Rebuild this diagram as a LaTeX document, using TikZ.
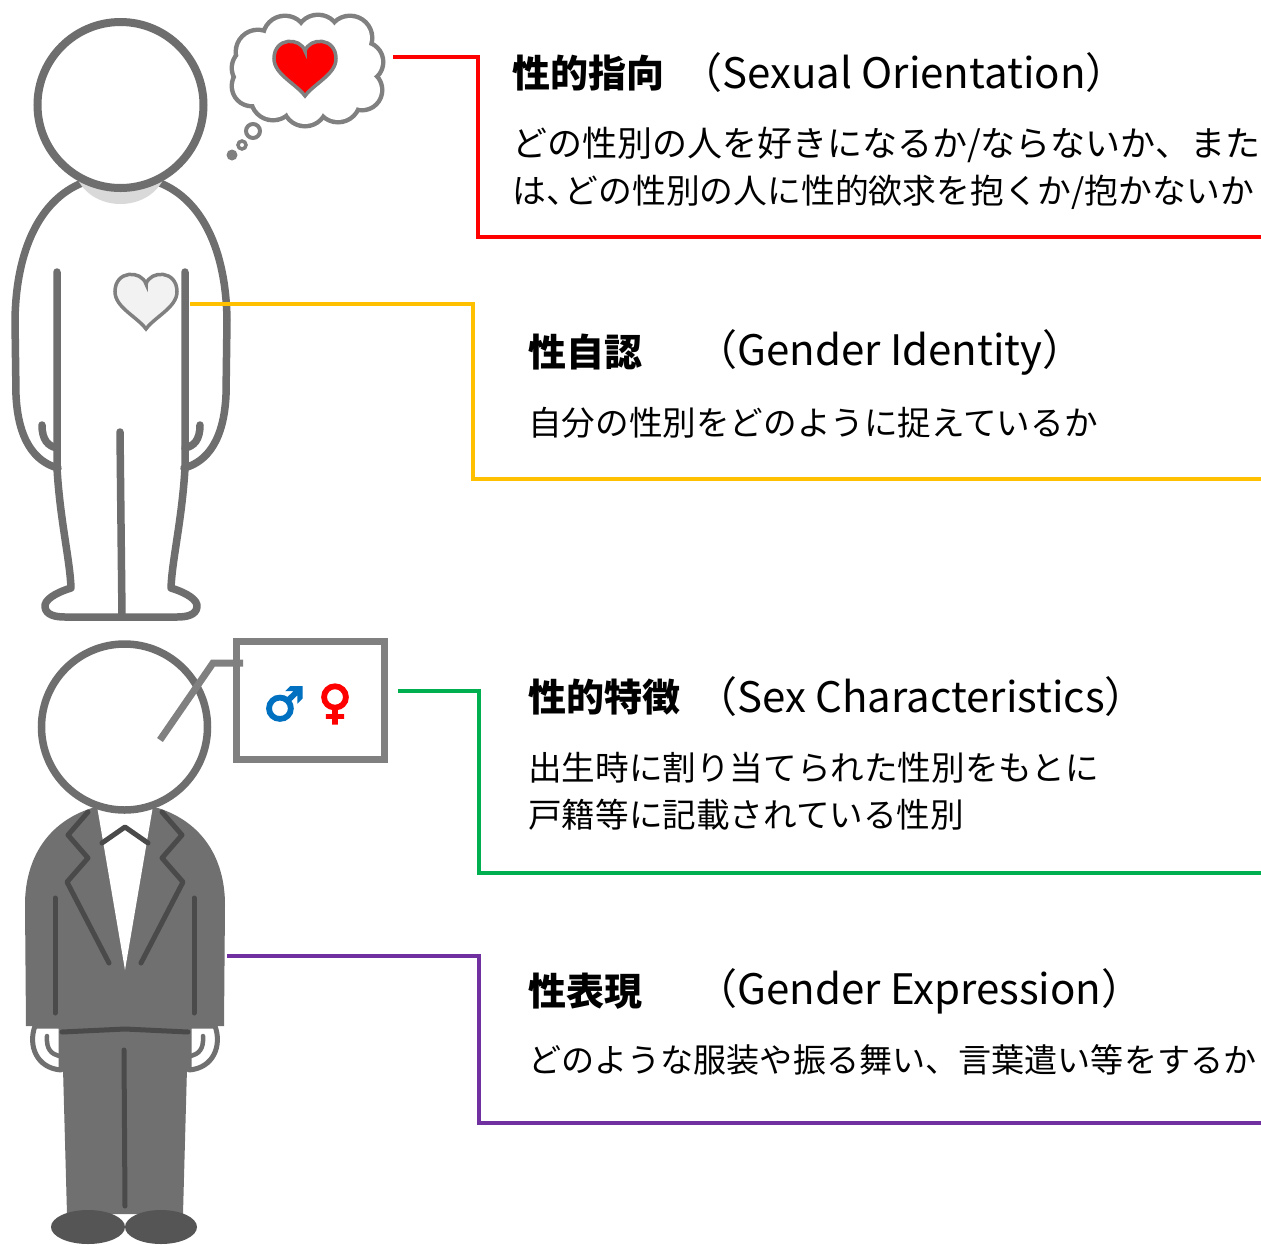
\documentclass[tikz,border=0pt]{standalone}
\usepackage{fontspec}
\setmainfont{Noto Sans CJK JP}
\newfontfamily\symbolfont[FakeBold=4]{DejaVu Sans}
\usetikzlibrary{calc}

\definecolor{figgray}{HTML}{6E6E6E}
\definecolor{iconstroke}{HTML}{808080}
\definecolor{neckgray}{HTML}{D9D9D9}
\definecolor{heartpale}{HTML}{F2F2F2}
\definecolor{suitgray}{HTML}{707070}
\definecolor{suitdark}{HTML}{4A4A4A}
\definecolor{shoegray}{HTML}{555555}
\definecolor{lnred}{HTML}{FF0000}
\definecolor{lnyellow}{HTML}{FFC000}
\definecolor{lngreen}{HTML}{00B050}
\definecolor{lnpurple}{HTML}{7030A0}
\definecolor{malecol}{HTML}{0070C0}

\newcommand\titlesize{\fontsize{38bp}{44bp}\selectfont}
\newcommand\ensize{\fontsize{42bp}{48bp}\selectfont}
\newcommand\descsize{\fontsize{33.6bp}{40bp}\selectfont}
\newcommand\halfcomma{\makebox[0.55em][l]{、}}

\tikzset{
  figline/.style={draw=figgray, line width=7.5bp, line cap=round, line join=round},
  suitline/.style={draw=suitdark, line width=5bp, line cap=round, line join=round},
  conn/.style={line width=3.5bp, line join=miter},
  titletext/.style={anchor=west, inner sep=0pt, font=\titlesize\bfseries},
  entext/.style={anchor=west, inner sep=0pt, font=\ensize},
  desctext/.style={anchor=west, inner sep=0pt, font=\descsize},
  descsized/.style={anchor=west, inner sep=0pt, font=\fontsize{#1}{40bp}\selectfont},
  gendersym/.style={inner sep=0pt, font=\symbolfont\fontsize{46bp}{46bp}\selectfont},
  heart/.pic={
    \path[pic actions] (0,-0.55) .. controls (0.15,-1.0) and (1.0,-1.0) .. (1.0,-0.3)
      .. controls (1.0,0.2) and (0.3,0.5) .. (0,0.9)
      .. controls (-0.3,0.5) and (-1.0,0.2) .. (-1.0,-0.3)
      .. controls (-1.0,-1.0) and (-0.15,-1.0) .. cycle;
  },
}

\begin{document}
\begin{tikzpicture}[x=1bp, y=-1bp]
\useasboundingbox (0,0) rectangle (1261,1245);
\fill[white] (0,0) rectangle (1261,1245);

% ---------- upper figure ----------
% body outline
\draw[figline] (82,183) .. controls (40,200) and (16,250) .. (15,320) -- (16,395)
  .. controls (18,440) and (35,462) .. (58,468);
\draw[figline] (160,183) .. controls (202,200) and (226,250) .. (227,320) -- (226,395)
  .. controls (224,440) and (207,462) .. (184,468);
\draw[figline] (57,272) -- (57,468) .. controls (60,520) and (70,560) .. (71,588)
  .. controls (55,593) and (44,600) .. (45,607) .. controls (46,615) and (55,617) .. (65,617) -- (121,617);
\draw[figline] (185,272) -- (185,468) .. controls (182,520) and (172,560) .. (171,588)
  .. controls (187,593) and (198,600) .. (197,607) .. controls (196,615) and (187,617) .. (177,617) -- (121,617);
\draw[figline] (120,432) -- (122,616);
\draw[figline] (42,425) .. controls (42,440) and (48,446) .. (57,448);
\draw[figline] (200,425) .. controls (200,440) and (194,446) .. (185,448);
% neck shade and head
\fill[neckgray] (78,180) .. controls (95,212) and (146,212) .. (163,180) -- cycle;
\draw[figgray, line width=8bp, fill=white] (120.5,105) circle[radius=83];
% heart on the chest
\pic[draw=iconstroke, fill=heartpale, line width=3.5bp, scale=31] (chestheart) at (146,301) {heart};

% thought bubble
\foreach \cx/\cy/\r in {258/52/20, 285/38/20, 318/37/20, 350/38/20, 363/62/18, 362/90/18,
  338/100/20, 305/104/20, 273/98/20, 252/86/18, 252/68/18}
  \fill[iconstroke] (\cx,\cy) circle[radius=\r+4.5];
\foreach \cx/\cy/\r in {258/52/20, 285/38/20, 318/37/20, 350/38/20, 363/62/18, 362/90/18,
  338/100/20, 305/104/20, 273/98/20, 252/86/18, 252/68/18}
  \fill[white] (\cx,\cy) circle[radius=\r];
\fill[white] (307,68) ellipse[x radius=55, y radius=40];
\draw[iconstroke, line width=4bp, fill=white] (253,131) circle[radius=7];
\draw[iconstroke, line width=3.5bp, fill=white] (242,145) circle[radius=4];
\fill[iconstroke] (232,155) circle[radius=5.5];
\pic[draw=iconstroke, fill=lnred, line width=3.5bp, scale=31] (loveheart) at (305,68) {heart};

% ---------- lower figure (suit) ----------
\fill[suitgray] (92,808) .. controls (48,822) and (25,858) .. (25,905) -- (26,1026)
  -- (62,1026) -- (62,1036) -- (188,1036) -- (188,1026) -- (224,1026) -- (225,905)
  .. controls (225,858) and (202,822) .. (158,808) -- cycle;
\fill[white] (97,806) -- (153,806) -- (125,970) -- cycle;
\draw[suitline] (88,812) -- (68,835) -- (88,858) -- (67,882) -- (109,963);
\draw[suitline] (162,812) -- (182,835) -- (162,858) -- (183,882) -- (141,963);
\draw[suitline] (102,843) -- (125,827) -- (148,843);
\draw[suitline] (55,898) -- (55,1013);
\draw[suitline] (194,898) -- (194,1013);
% hands
\filldraw[fill=white, draw=suitgray, line width=5bp, line join=round] (61,1026) -- (35,1026)
  .. controls (28,1045) and (36,1068) .. (61,1070) -- cycle;
\filldraw[fill=white, draw=suitgray, line width=5bp, line join=round] (189,1026) -- (215,1026)
  .. controls (222,1045) and (214,1068) .. (189,1070) -- cycle;
\draw[suitgray, line width=4.5bp, line cap=round] (47,1036) .. controls (46,1050) and (52,1054) .. (59,1056);
\draw[suitgray, line width=4.5bp, line cap=round] (203,1036) .. controls (204,1050) and (198,1054) .. (191,1056);
% trousers and shoes
\fill[suitgray] (62,1032) -- (67,1214) -- (183,1214) -- (188,1032) -- cycle;
\draw[suitline] (62,1032) -- (125,1029) -- (188,1032);
\draw[suitline] (124,1050) -- (125,1206);
\fill[shoegray] (88,1227) ellipse[x radius=37, y radius=17];
\fill[shoegray] (161,1227) ellipse[x radius=36, y radius=17];
% head
\draw[figgray, line width=7.5bp, fill=white] (124.5,727) circle[radius=83];
% sign with the two symbols
\draw[iconstroke, line width=7bp, fill=white] (236,641) rectangle (384,759);
\draw[iconstroke, line width=7bp] (160,740) -- (213,663) -- (243,663);
\node[gendersym, text=malecol] (male) at (284,704) {♂};
\node[gendersym, text=lnred] (female) at (335,704) {♀};

% ---------- texts ----------
\node[titletext] (t1) at (512,73) {性的指向};
\node[entext] (t1e) at (680,73) {（Sexual Orientation）};
\node[descsized=35bp] (d1a) at (512,145) {どの性別の人を好きになるか/ならないか、また};
\node[descsized=33.8bp] (d1b) at (512,192) {は\halfcomma どの性別の人に性的欲求を抱くか/抱かないか};

\node[titletext] (t2) at (528,352) {性自認};
\node[entext] (t2e) at (695,352) {（Gender Identity）};
\node[desctext] (d2) at (528,423) {自分の性別をどのように捉えているか};

\node[titletext] (t3) at (528,697) {性的特徴};
\node[entext] (t3e) at (695,697) {（Sex Characteristics）};
\node[desctext] (d3a) at (528,768) {出生時に割り当てられた性別をもとに};
\node[desctext] (d3b) at (528,815) {戸籍等に記載されている性別};

\node[titletext] (t4) at (528,991) {性表現};
\node[entext] (t4e) at (695,991) {（Gender Expression）};
\node[descsized=33.1bp] (d4) at (528,1060) {どのような服装や振る舞い、言葉遣い等をするか};

% ---------- connectors ----------
\coordinate (c1s) at (393,57);   \coordinate (c1k) at (478,237);  \coordinate (c1e) at (1261,237);
\coordinate (c2s) at (190,304);  \coordinate (c2k) at (473,479);  \coordinate (c2e) at (1261,479);
\coordinate (c3s) at (398,691);  \coordinate (c3k) at (479,873);  \coordinate (c3e) at (1261,873);
\coordinate (c4s) at (227,956);  \coordinate (c4k) at (479,1123); \coordinate (c4e) at (1261,1123);
\draw[conn, lnred]    (c1s) -| (c1k) -- (c1e);
\draw[conn, lnyellow] (c2s) -| (c2k) -- (c2e);
\draw[conn, lngreen]  (c3s) -| (c3k) -- (c3e);
\draw[conn, lnpurple] (c4s) -| (c4k) -- (c4e);
\end{tikzpicture}
\end{document}
